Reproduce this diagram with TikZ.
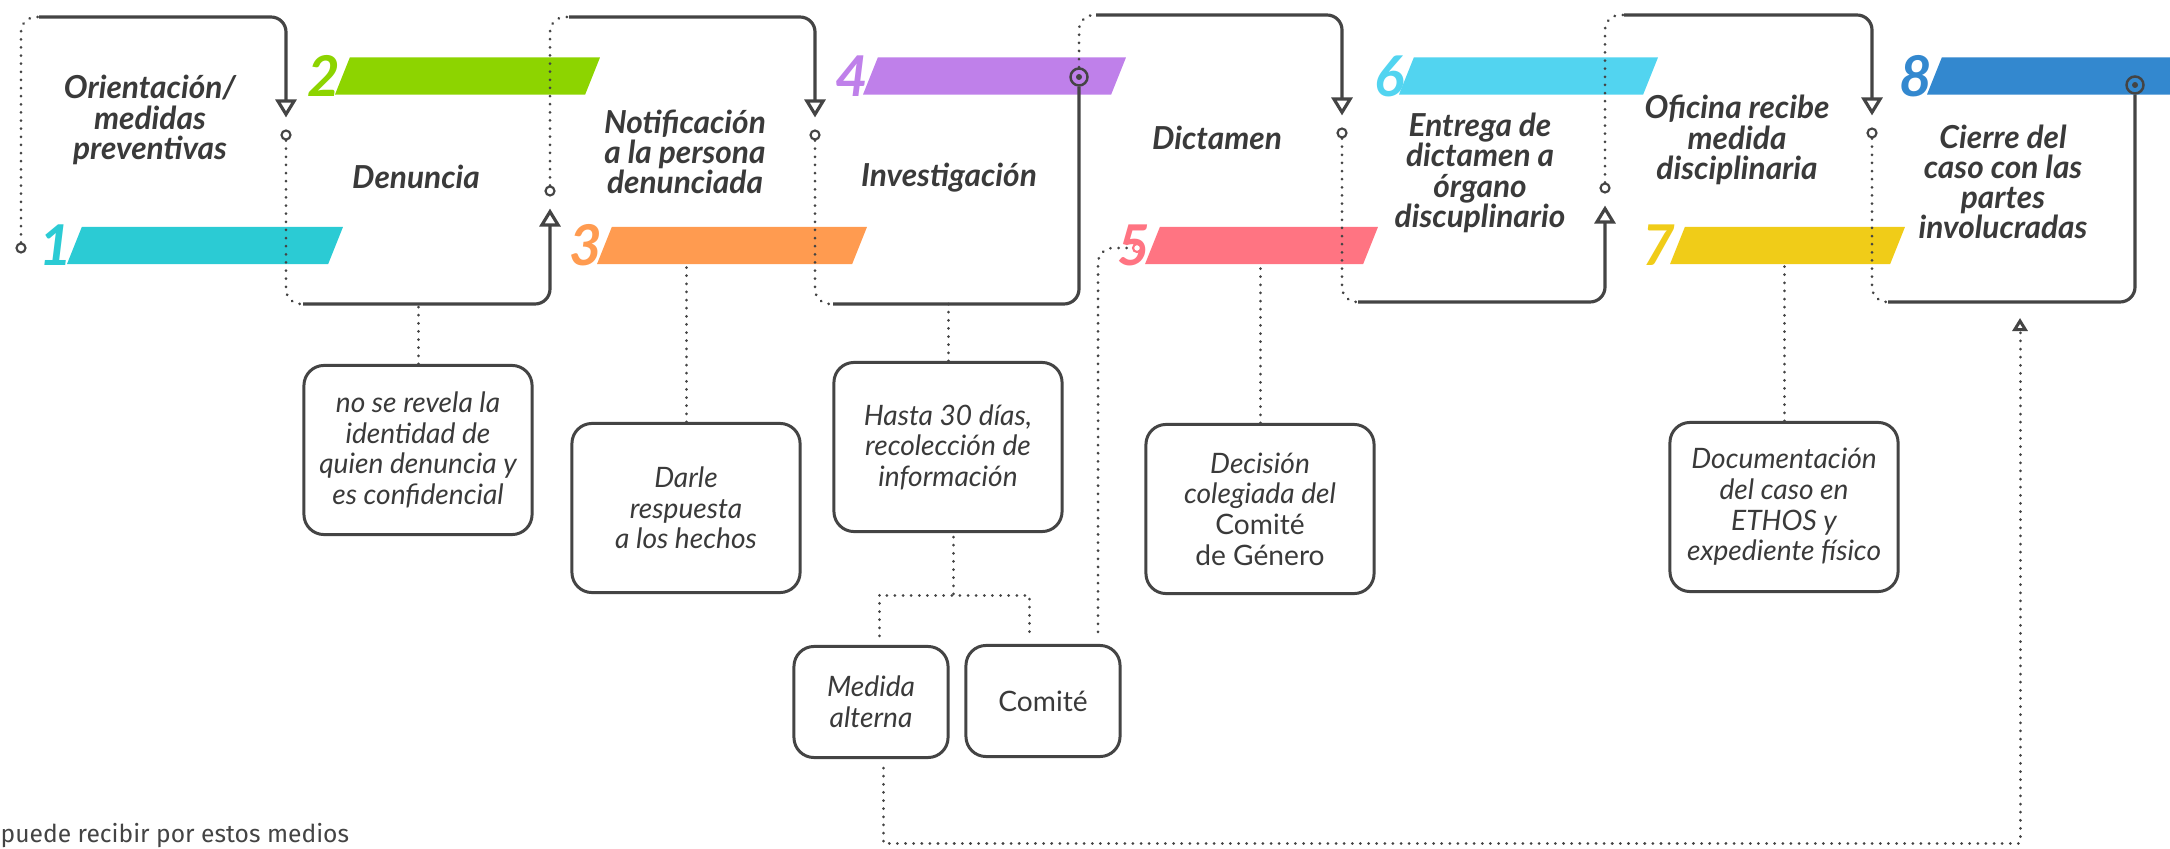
\documentclass[tikz,border=0pt]{standalone}
\usepackage{fontspec}
\setmainfont{Lato}
\newfontfamily\notefont{Fira Sans}
\usetikzlibrary{calc, arrows.meta, positioning}

\definecolor{ink}{HTML}{444444}
\definecolor{txt}{HTML}{3A3A3A}
\definecolor{step1}{HTML}{2BCBD4}
\definecolor{step2}{HTML}{8DD400}
\definecolor{step3}{HTML}{FF9B50}
\definecolor{step4}{HTML}{BF80EA}
\definecolor{step5}{HTML}{FF7482}
\definecolor{step6}{HTML}{52D4F0}
\definecolor{step7}{HTML}{F0CC18}
\definecolor{step8}{HTML}{3388CF}

\tikzset{
  bar/.style={fill=#1, xslant=0.4, transform shape, inner sep=0pt, minimum height=0.37cm},
  num/.style={text=#1, font=\fontsize{16}{16}\selectfont\bfseries\itshape, inner sep=0pt},
  title/.style={text=txt, align=center, inner sep=0pt, font=\fontsize{9}{8.6}\selectfont\bfseries\itshape},
  info/.style={draw=ink, line width=0.85pt, rounded corners=0.2cm, text=txt, align=center, inner sep=0pt, font=\fontsize{8}{8.7}\selectfont\itshape},
  dot/.style={circle, draw=ink, fill=white, line width=0.6pt, inner sep=0pt, minimum size=0.09cm},
  target/.style={circle, draw=ink, line width=0.7pt, inner sep=0pt, minimum size=0.17cm,
    path picture={\fill[ink] (path picture bounding box.center) circle (0.03cm);}},
  dotline/.style={ink, line width=0.85pt, dash pattern=on 0.01pt off 2.3pt, line cap=round, rounded corners=0.15cm},
  solidline/.style={ink, line width=0.9pt, rounded corners=0.15cm},
  tip/.style={-{Triangle[open, width=0.21cm, length=0.18cm]}, shorten >=0.12cm},
  note/.style={text=ink, inner sep=0pt, font=\notefont\fontsize{7}{8}\selectfont},
}

\begin{document}
\begin{tikzpicture}[x=0.01cm, y=-0.01cm, >=latex, font=\small]

\path[use as bounding box, fill=white] (0,0) rectangle (2170,849);

\node[bar=step1, minimum width=2.61cm] (bar1) at (205,245.5) {};
\node[bar=step2, minimum width=2.50cm] (bar2) at (467.5,76) {};
\node[bar=step3, minimum width=2.55cm] (bar3) at (732,245.5) {};
\node[bar=step4, minimum width=2.48cm] (bar4) at (994.5,76) {};
\node[bar=step5, minimum width=2.18cm] (bar5) at (1261.5,245.5) {};
\node[bar=step6, minimum width=2.44cm] (bar6) at (1528.5,76) {};
\node[bar=step7, minimum width=2.20cm] (bar7) at (1787.5,245.5) {};
\node[bar=step8, minimum width=2.78cm] (bar8) at (2073.5,76) {};

\node[num=step1, left=0.01cm of bar1] (n1) {1};
\node[num=step2, left=0.01cm of bar2] (n2) {2};
\node[num=step3, left=0.01cm of bar3] (n3) {3};
\node[num=step4, left=0.01cm of bar4] (n4) {4};
\node[num=step5, left=0.01cm of bar5] (n5) {5};
\node[num=step6, left=0.01cm of bar6] (n6) {6};
\node[num=step7, left=0.01cm of bar7] (n7) {7};
\node[num=step8, left=0.01cm of bar8] (n8) {8};

\node[title] (orient) at (150,120) {Orientación/\\medidas\\preventivas};
\node[title] (denuncia) at (416,177) {Denuncia};
\node[title] (notif) at (685,152) {Notificación\\a la persona\\denunciada};
\node[title] (invest) at (949,178) {Investigación};
\node[title] (dictamen) at (1217,138) {Dictamen};
\node[title] (entrega) at (1480,173) {Entrega de\\dictamen a\\órgano\\discuplinario};
\node[title] (oficina) at (1737,140) {Oficina recibe\\medida\\disciplinaria};
\node[title] (cierre) at (2003,182) {Cierre del\\caso con las\\partes\\involucradas};

\node[dot] (c0) at (21,248) {};
\node[dot] (c1) at (286,135) {};
\node[dot] (c2) at (550,191) {};
\node[dot] (c3) at (815,135) {};
\node[target] (t4) at (1079,77) {};
\node[dot] (c5) at (1342,133) {};
\node[dot] (c6) at (1605,188) {};
\node[dot] (c7) at (1872,133) {};
\node[target] (t8) at (2135,85) {};
\node[dot, draw=step5, minimum size=0.08cm] (c5in) at (1137,248) {};

\coordinate (top1) at (39,17);
\coordinate (bot1) at (303,304);
\coordinate (top2) at (569,17);
\coordinate (bot3) at (833,304);
\coordinate (top4) at (1096,15);
\coordinate (bot5) at (1358,302);
\coordinate (top6) at (1624,15);
\coordinate (bot7) at (1888,302);

\draw[dotline] (c0) |- (top1);
\draw[solidline, tip] (top1) -| (c1);
\draw[dotline] (c1) |- (bot1);
\draw[solidline, tip] (bot1) -| (c2);
\draw[dotline] (c2) |- (top2);
\draw[solidline, tip] (top2) -| (c3);
\draw[dotline] (c3) |- (bot3);
\draw[solidline] (bot3) -| (t4);
\draw[dotline] (t4) |- (top4);
\draw[solidline, tip] (top4) -| (c5);
\draw[dotline] (c5) |- (bot5);
\draw[solidline, tip] (bot5) -| (c6);
\draw[dotline] (c6) |- (top6);
\draw[solidline, tip] (top6) -| (c7);
\draw[dotline] (c7) |- (bot7);
\draw[solidline] (bot7) -| (t8);

\begin{scope}[minimum width=2.28cm, minimum height=1.69cm]
    \node[info] (anonim) at (418,450) {no se revela la\\identidad de\\quien denuncia y\\es confidencial};
    \node[info] (respuesta) at (686,508) {Darle\\respuesta\\a los hechos};
    \node[info] (plazo) at (948,447) {Hasta 30 días,\\recolección de\\información};
    \node[info] (decision) at (1260,509) {Decisión\\colegiada del\\{\upshape Comité}\\{\upshape de Género}};
    \node[info] (document) at (1784,507) {Documentación\\del caso en\\ETHOS y\\expediente físico};
\end{scope}

\begin{scope}[minimum width=1.54cm, minimum height=1.11cm, rounded corners=0.17cm]
    \node[info] (medida) at (871,702) {Medida\\alterna};
    \node[info] (comite) at (1043,701) {\upshape Comité};
\end{scope}

\node[note, anchor=base west] (nota) at (0,842) {puede recibir por estos medios};

\draw[dotline] (anonim.north) -- (anonim.north |- bot1);
\draw[dotline] (respuesta.north) -- (respuesta.north |- bar3.south);
\draw[dotline] (plazo.north) -- (plazo.north |- bot3);
\draw[dotline] (decision.north) -- (decision.north |- bar5.south);
\draw[dotline] (document.north) -- (document.north |- bar7.south);

\coordinate (fork) at ($(plazo.south)+(5,62)$);
\draw[dotline] ($(plazo.south)+(5,4)$) -- (fork);
\draw[dotline, sharp corners] ($(medida.north)+(8,-9)$) |- (fork) -| ($(comite.north)+(-14,-7)$);
\draw[dotline] ($(comite.north)+(55,-12)$) |- (c5in);

\coordinate (retour) at (2020,318);
\draw[dotline, sharp corners, -{Triangle[open, width=0.15cm, length=0.13cm]}] ($(medida.south)+(12,9)$) -- ++(0,75) -| (retour);

\end{tikzpicture}
\end{document}
